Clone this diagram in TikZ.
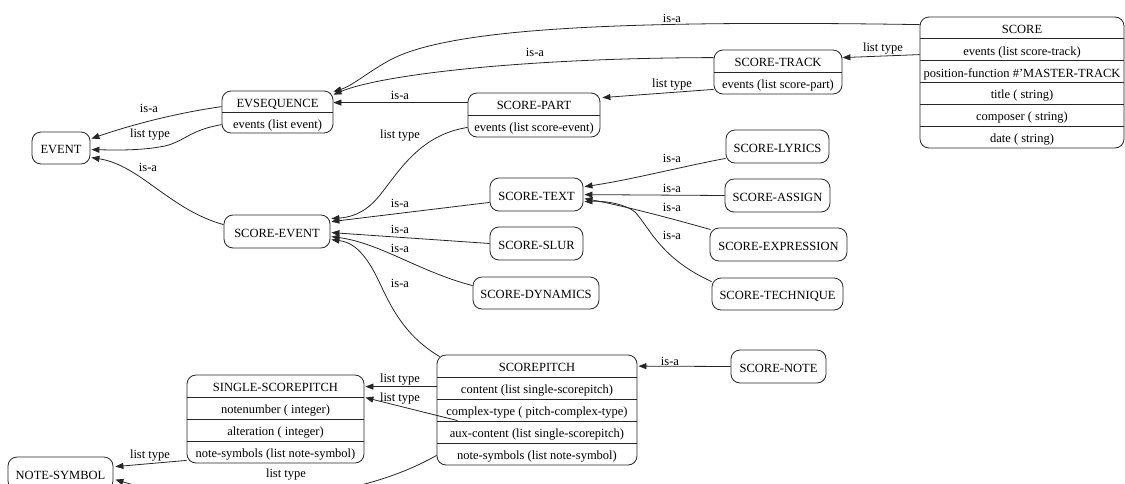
\documentclass[tikz,border=0pt]{standalone}
\usepackage{fontspec}
\setmainfont{Liberation Serif}
\usetikzlibrary{arrows.meta,calc}
\begin{document}
\begin{tikzpicture}[x=1pt,y=-1pt,
  every node/.style={font=\fontsize{12.5}{15}\selectfont},
  box/.style={draw=black!85, line width=0.8pt, rounded corners=9pt, inner sep=0pt, text height=13pt, text depth=2pt},
  rowt/.style={inner sep=0pt, text height=13pt, text depth=2pt},
  lbl/.style={inner sep=0pt},
  arr/.style={draw=black!85, line width=0.8pt, -{Triangle[length=8pt,width=6pt]}},
  div/.style={draw=black!85, line width=0.8pt}]
\useasboundingbox (0,0) rectangle (1125,483);
\clip (0,0) rectangle (1125,483);

% ---------- record: SCORE ----------
\node[box, minimum width=204pt, minimum height=131pt] (score) at (1022,82.5) {};
\node[rowt] (score-r0) at (1022,27.9) {SCORE};
\node[rowt] (score-r1) at (1022,49.75) {events (list score-track)};
\node[rowt] (score-r2) at (1022,71.6) {position-function \#'MASTER-TRACK};
\node[rowt] (score-r3) at (1022,93.4) {title ( string)};
\node[rowt] (score-r4) at (1022,115.25) {composer ( string)};
\node[rowt] (score-r5) at (1022,137.1) {date ( string)};
\foreach \y in {38.8,60.7,82.5,104.3,126.2} \draw[div] (920,\y) -- (1124,\y);

% ---------- record: SCORE-TRACK ----------
\node[box, minimum width=128pt, minimum height=44pt] (track) at (778,72) {};
\node[rowt] (track-r0) at (778,61) {SCORE-TRACK};
\node[rowt] (track-r1) at (778,83) {events (list score-part)};
\draw[div] (714,72) -- (842,72);

% ---------- record: EVSEQUENCE ----------
\node[box, minimum width=111pt, minimum height=42pt] (evseq) at (277.5,112) {};
\node[rowt] (evseq-r0) at (277.5,101.5) {EVSEQUENCE};
\node[rowt] (evseq-r1) at (277.5,122.5) {events (list event)};
\draw[div] (222,112) -- (333,112);

% ---------- record: SCORE-PART ----------
\node[box, minimum width=132pt, minimum height=44pt] (part) at (534,115) {};
\node[rowt] (part-r0) at (534,104) {SCORE-PART};
\node[rowt] (part-r1) at (534,126) {events (list score-event)};
\draw[div] (468,115) -- (600,115);

% ---------- record: SCOREPITCH ----------
\node[box, minimum width=200pt, minimum height=110pt] (spitch) at (537,410) {};
\node[rowt] (spitch-r0) at (537,366) {SCOREPITCH};
\node[rowt] (spitch-r1) at (537,388) {content (list single-scorepitch)};
\node[rowt] (spitch-r2) at (537,410) {complex-type ( pitch-complex-type)};
\node[rowt] (spitch-r3) at (537,432) {aux-content (list single-scorepitch)};
\node[rowt] (spitch-r4) at (537,454) {note-symbols (list note-symbol)};
\foreach \y in {377,399,421,443} \draw[div] (437,\y) -- (637,\y);

% ---------- record: SINGLE-SCOREPITCH ----------
\node[box, minimum width=177pt, minimum height=88pt] (single) at (275.5,419) {};
\node[rowt] (single-r0) at (275.5,386) {SINGLE-SCOREPITCH};
\node[rowt] (single-r1) at (275.5,408) {notenumber ( integer)};
\node[rowt] (single-r2) at (275.5,430) {alteration ( integer)};
\node[rowt] (single-r3) at (275.5,452) {note-symbols (list note-symbol)};
\foreach \y in {397,419,441} \draw[div] (187,\y) -- (364,\y);

% ---------- simple nodes ----------
\node[box, minimum width=58pt, minimum height=32pt] (event) at (61,148) {EVENT};
\node[box, minimum width=106pt, minimum height=33pt] (sevent) at (277,231.5) {SCORE-EVENT};
\node[box, minimum width=93pt, minimum height=33pt] (stext) at (536.5,194.5) {SCORE-TEXT};
\node[box, minimum width=93pt, minimum height=33pt] (sslur) at (536.5,243.5) {SCORE-SLUR};
\node[box, minimum width=126pt, minimum height=32pt] (sdyn) at (536,293) {SCORE-DYNAMICS};
\node[box, minimum width=103pt, minimum height=33pt] (slyr) at (777.5,146.5) {SCORE-LYRICS};
\node[box, minimum width=105pt, minimum height=33pt] (sassign) at (777.5,195.5) {SCORE-ASSIGN};
\node[box, minimum width=137pt, minimum height=33pt] (sexpr) at (778.5,244.5) {SCORE-EXPRESSION};
\node[box, minimum width=131pt, minimum height=32pt] (stech) at (777.5,294) {SCORE-TECHNIQUE};
\node[box, minimum width=95pt, minimum height=33pt] (snote) at (778.5,366.5) {SCORE-NOTE};
\node[box, minimum width=105pt, minimum height=33pt] (nsym) at (60.5,473.5) {NOTE-SYMBOL};

% ---------- connectors ----------
% SCORE is-a EVSEQUENCE
\draw[arr] ($(score.north west)+(0,8)$) .. controls (620,20) and (450,28) .. (390,60)
  .. controls (368,72) and (352,86) .. ($(evseq.north east)+(0,1)$);
% SCORE list type SCORE-TRACK
\draw[arr] ($(score.north west)+(0,38)$) -- ($(track.north east)+(0,8)$);
% SCORE-TRACK is-a EVSEQUENCE
\draw[arr] ($(track.north west)+(0,8)$) .. controls (520,58) and (380,75) .. ($(evseq.north east)+(0,4)$);
% SCORE-TRACK list type SCORE-PART
\draw[arr] ($(track.south west)+(0,-5)$) -- ($(part.north east)+(2,5)$);
% SCORE-PART is-a EVSEQUENCE
\draw[arr] ($(part.north west)+(0,10)$) -- ($(evseq.north east)+(0,12)$);
% SCORE-PART list type SCORE-EVENT
\draw[arr] ($(part.south west)+(0,-10)$) .. controls (420,135) and (400,170) .. (380,195)
  .. controls (368,210) and (355,217) .. ($(sevent.north east)+(1,4)$);
% SCORE-TEXT is-a SCORE-EVENT
\draw[arr] ($(stext.south west)+(0,-9)$) -- ($(sevent.north east)+(1,7)$);
% SCORE-SLUR is-a SCORE-EVENT
\draw[arr] (sslur.west) -- ($(sevent.north east)+(1,18)$);
% SCORE-DYNAMICS is-a SCORE-EVENT
\draw[arr] ($(sdyn.north west)+(0,9)$) .. controls (420,272) and (380,243) .. ($(sevent.north east)+(1,22)$);
% SCOREPITCH is-a SCORE-EVENT
\draw[arr] ($(spitch.north west)+(3,2)$) .. controls (395,330) and (385,290) .. (372,268)
  .. controls (360,248) and (350,242) .. ($(sevent.north east)+(1,25)$);
% EVSEQUENCE is-a EVENT
\draw[arr] ($(evseq.north west)+(0,16)$) .. controls (170,114) and (125,127) .. ($(event.north east)+(1,7)$);
% EVSEQUENCE list type EVENT
\draw[arr] ($(evseq.north west)+(0,34)$) .. controls (190,130) and (185,141) .. (165,146)
  .. controls (140,151) and (112,150) .. ($(event.north east)+(1,18)$);
% SCORE-EVENT is-a EVENT
\draw[arr] ($(sevent.north west)+(0,10)$) .. controls (170,210) and (140,165) .. ($(event.north east)+(1,26)$);
% SCORE-TEXT subclasses
\draw[arr] ($(slyr.south west)+(0,-5)$) .. controls (680,167) and (630,180) .. ($(stext.north east)+(1,9)$);
\draw[arr] (sassign.west) -- ($(stext.north east)+(1,17)$);
\draw[arr] ($(sexpr.north west)+(1,2)$) .. controls (670,218) and (620,205) .. ($(stext.north east)+(1,21)$);
\draw[arr] ($(stech.north west)+(0,4)$) .. controls (660,258) and (650,228) .. (635,212)
  .. controls (622,202) and (600,201) .. ($(stext.north east)+(1,24)$);
% SCORE-NOTE is-a SCOREPITCH
\draw[arr] (snote.west) -- ($(spitch.north east)+(1,11.5)$);
% SCOREPITCH list type SINGLE-SCOREPITCH
\draw[arr] ($(spitch.north west)+(0,32)$) -- ($(single.north east)+(1,12)$);
\draw[arr] ($(spitch.north west)+(21,66)$) -- ($(single.north east)+(1,23)$);
% SINGLE-SCOREPITCH list type NOTE-SYMBOL
\draw[arr] ($(single.south west)+(0,-3)$) -- ($(nsym.north east)+(2,10)$);
% SCOREPITCH list type NOTE-SYMBOL
\draw[arr] ($(spitch.south west)+(0,-10)$) .. controls (340,510) and (200,505) .. ($(nsym.north east)+(2,23)$);

% ---------- labels ----------
\node[lbl] (l1) at (672,18) {is-a};
\node[lbl] (l2) at (883,49) {list type};
\node[lbl] (l3) at (535,52) {is-a};
\node[lbl] (l4) at (672,85) {list type};
\node[lbl] (l5) at (400,95) {is-a};
\node[lbl] (l6) at (400,136) {list type};
\node[lbl] (l7) at (149,108) {is-a};
\node[lbl] (l8) at (150,135) {list type};
\node[lbl] (l9) at (148,167) {is-a};
\node[lbl] (l10) at (400,203) {is-a};
\node[lbl] (l11) at (400,229) {is-a};
\node[lbl] (l12) at (400,248) {is-a};
\node[lbl] (l13) at (400,283) {is-a};
\node[lbl] (l14) at (672,158) {is-a};
\node[lbl] (l15) at (672,188) {is-a};
\node[lbl] (l16) at (672,207) {is-a};
\node[lbl] (l17) at (672,235) {is-a};
\node[lbl] (l18) at (670,361) {is-a};
\node[lbl] (l19) at (400,380) {list type};
\node[lbl] (l20) at (400,399) {list type};
\node[lbl] (l21) at (150,456) {list type};
\node[lbl] (l22) at (286,475) {list type};
\end{tikzpicture}
\end{document}
